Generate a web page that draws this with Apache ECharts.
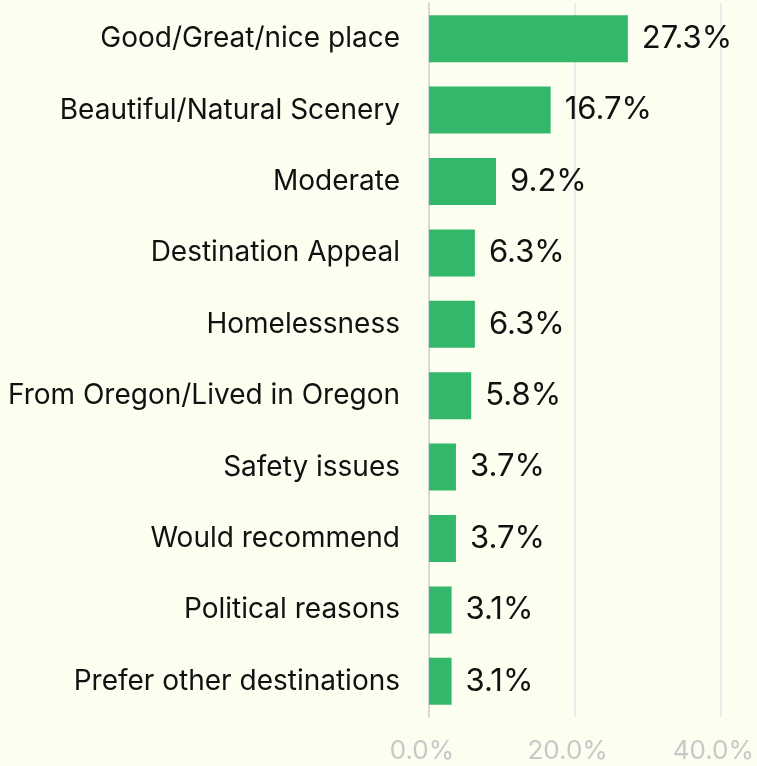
<!DOCTYPE html>
<html>
<head>
<meta charset="utf-8">
<script src="https://cdn.jsdelivr.net/npm/echarts@6/dist/echarts.min.js"></script>
<style>
  html, body { margin: 0; padding: 0; background: #fcfeef; }
  #chart { width: 757px; height: 766px; }
</style>
</head>
<body>
<div id="chart"></div>
<script>
// Survey responses, top to bottom
const categories = [
  'Good/Great/nice place',
  'Beautiful/Natural Scenery',
  'Moderate',
  'Destination Appeal',
  'Homelessness',
  'From Oregon/Lived in Oregon',
  'Safety issues',
  'Would recommend',
  'Political reasons',
  'Prefer other destinations'
];
const shares = [27.3, 16.7, 9.2, 6.3, 6.3, 5.8, 3.7, 3.7, 3.1, 3.1];
const xTicks = [0, 20, 40];

const FONT = 'Inter';
const chart = echarts.init(document.getElementById('chart'));
chart.setOption({
  backgroundColor: '#fcfeef',
  animation: false,
  grid: { left: 429, right: 33, top: 3, bottom: 49, containLabel: false },
  xAxis: {
    type: 'value',
    min: xTicks[0],
    max: xTicks[xTicks.length - 1],
    interval: xTicks[1] - xTicks[0],
    axisLine: { show: false },
    axisTick: { show: false },
    splitLine: { show: true, lineStyle: { color: '#ebebeb', width: 2 } },
    axisLabel: {
      color: '#c8c8c8',
      fontFamily: FONT,
      fontSize: 26,
      margin: 21,
      padding: [0, 14, 0, 0],
      formatter: v => v.toFixed(1) + '%'
    }
  },
  yAxis: {
    type: 'category',
    data: categories,
    inverse: true,
    axisLine: { show: true, lineStyle: { color: '#d9d9d9', width: 2 } },
    axisTick: { show: false },
    axisLabel: {
      color: '#111',
      fontFamily: FONT,
      fontSize: 28,
      margin: 29
    }
  },
  series: [{
    type: 'bar',
    data: shares,
    barWidth: 47,
    itemStyle: { color: '#33b76a' },
    label: {
      show: true,
      position: 'right',
      distance: 14,
      color: '#111',
      fontFamily: FONT,
      fontSize: 31,
      formatter: p => p.value.toFixed(1) + '%'
    }
  }]
});
</script>
</body>
</html>
